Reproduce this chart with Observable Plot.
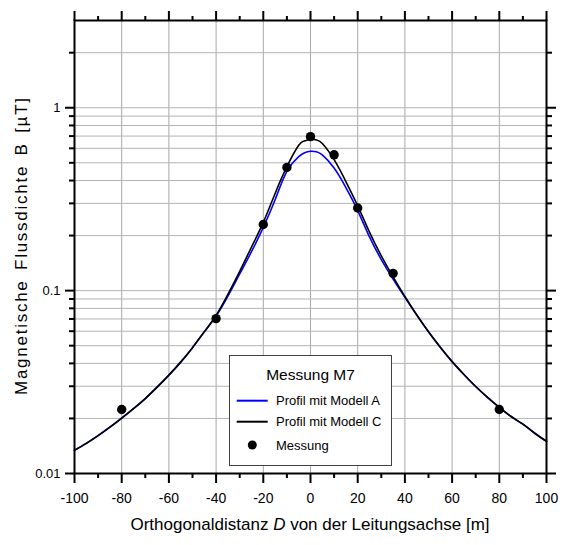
<!DOCTYPE html>
<html><head><meta charset="utf-8">
<script src="https://cdn.jsdelivr.net/npm/d3@7"></script>
<script src="https://cdn.jsdelivr.net/npm/@observablehq/plot@0.6"></script>
<style>
body{margin:0;background:#fff;}
#chart svg{display:block;}
</style>
</head><body><div id="chart"></div>
<script>
// Curve sample positions (m) and values (µT)
const curveX = [-100,-95,-90,-85,-80,-75,-70,-65,-60,-55,-50,-45,-40,-35,-30,-25,-20,-15,-10,-5,-2.5,0,2.5,5,10,15,20,25,30,35,40,45,50,55,60,65,70,75,80,85,90,95,100];
const modelA = [0.0134,0.01462,0.01611,0.01791,0.02009,0.02265,0.0257,0.02965,0.03451,0.04064,0.04875,0.0595,0.0726,0.0933,0.1233,0.1633,0.2218,0.3141,0.449,0.540,0.568,0.578,0.575,0.552,0.468,0.366,0.274,0.1968,0.1479,0.1156,0.0918,0.0735,0.0596,0.049,0.0409,0.0348,0.0299,0.0261,0.023,0.0205,0.0186,0.0166,0.015];
const modelC = [0.0134,0.01462,0.01611,0.01791,0.02009,0.02265,0.0257,0.02965,0.03451,0.04064,0.04875,0.05957,0.07328,0.0955,0.1274,0.173,0.236,0.340,0.4764,0.624,0.659,0.673,0.667,0.637,0.520,0.395,0.291,0.2089,0.1549,0.1189,0.0929,0.0738,0.0596,0.049,0.0409,0.0348,0.0299,0.0261,0.023,0.0205,0.0186,0.0166,0.015];
// Measurements
const measX = [-80,-40,-20,-10,0,10,20,35,80];
const measY = [0.0224,0.0703,0.230,0.472,0.695,0.553,0.283,0.1243,0.0224];
// Ticks
const xMajor = [-100,-80,-60,-40,-20,0,20,40,60,80,100];
const xMinor = [-90,-70,-50,-30,-10,10,30,50,70,90];
const yMajor = [0.01,0.1,1];
const yLabels = ["0.01","0.1","1"];
const yMinor = [0.02,0.03,0.04,0.05,0.06,0.07,0.08,0.09,0.2,0.3,0.4,0.5,0.6,0.7,0.8,0.9,2];
// Texts
const xTitle = ["Orthogonaldistanz ", "D", " von der Leitungsachse [m]"];
const yTitle = "Magnetische Flussdichte B [µT]";
const legendTitle = "Messung M7";
const legendItems = ["Profil mit Modell A","Profil mit Modell C","Messung"];

const lineA = curveX.map((x,i)=>({x, y: modelA[i]}));
const lineC = curveX.map((x,i)=>({x, y: modelC[i]}));
const meas = measX.map((x,i)=>({x, y: measY[i]}));

const W = 563, H = 545;
const plot = Plot.plot({
  width: W, height: H,
  marginLeft: 74, marginRight: 17, marginTop: 20, marginBottom: 72,
  style: {fontFamily: "'Liberation Sans', Arial, sans-serif", background: "#fff", color: "#000"},
  x: {domain: [-100, 100]},
  y: {type: "log", domain: [0.01, 3]},
  marks: [
    Plot.gridX(xMajor, {stroke: "#a8a8a8", strokeOpacity: 1, strokeWidth: 1}),
    Plot.gridY(yMajor.concat(yMinor), {stroke: "#b4b4b4", strokeOpacity: 1, strokeWidth: 1}),
    Plot.line(lineA, {x: "x", y: "y", stroke: "#0000ff", strokeWidth: 1.6, curve: "natural"}),
    Plot.line(lineC, {x: "x", y: "y", stroke: "#000", strokeWidth: 1.6, curve: "natural"}),
    Plot.dot(meas, {x: "x", y: "y", r: 4.7, fill: "#000", stroke: "none"}),
    Plot.frame({stroke: "#000", strokeWidth: 2}),
    Plot.axisX(xMajor, {anchor: "bottom", tickSize: 10, tickPadding: 10, strokeWidth: 2, fontSize: 14, label: null, tickFormat: d => String(d)}),
    Plot.axisX(xMinor, {anchor: "bottom", tickSize: 5, strokeWidth: 2, fill: "none", label: null}),
    Plot.axisX(xMajor, {anchor: "top", tickSize: 10, strokeWidth: 2, fill: "none", label: null}),
    Plot.axisX(xMinor, {anchor: "top", tickSize: 5, strokeWidth: 2, fill: "none", label: null}),
    Plot.axisY(yMajor, {anchor: "left", tickSize: 9, tickPadding: 5, strokeWidth: 2, fontSize: 13, label: null, tickFormat: d => yLabels[yMajor.indexOf(d)]}),
    Plot.axisY(yMinor, {anchor: "left", tickSize: 5, strokeWidth: 2, fill: "none", label: null}),
    Plot.axisY(yMajor, {anchor: "right", tickSize: 9, strokeWidth: 2, fill: "none", label: null}),
    Plot.axisY(yMinor, {anchor: "right", tickSize: 5, strokeWidth: 2, fill: "none", label: null})
  ]
});
document.getElementById("chart").appendChild(plot);

const svg = d3.select(plot);
const font = "'Liberation Sans', Arial, sans-serif";
// X title
const xt = svg.append("text").attr("x", 310).attr("y", 530).attr("text-anchor", "middle")
  .attr("font-family", font).attr("font-size", 17).attr("fill", "#000");
xt.append("tspan").text(xTitle[0]);
xt.append("tspan").attr("font-style", "italic").text(xTitle[1]);
xt.append("tspan").text(xTitle[2]);
// Y title
svg.append("text").attr("transform", "translate(27,246.5) rotate(-90)").attr("text-anchor", "middle")
  .attr("font-family", font).attr("font-size", 17).attr("fill", "#000")
  .style("word-spacing", "3px")
  .attr("textLength", 297).attr("lengthAdjust", "spacing").text(yTitle);

// Legend
const lg = svg.append("g").attr("font-family", font).attr("fill", "#000");
lg.append("rect").attr("x", 229.5).attr("y", 355.5).attr("width", 162).attr("height", 110)
  .attr("fill", "#fff").attr("stroke", "#404040").attr("stroke-width", 1);
lg.append("text").attr("x", 310.5).attr("y", 380).attr("text-anchor", "middle").attr("font-size", 15.5).text(legendTitle);
const rows = [400.7, 421.7, 445];
lg.append("line").attr("x1", 236.7).attr("x2", 267.7).attr("y1", rows[0]).attr("y2", rows[0]).attr("stroke", "#0000ff").attr("stroke-width", 2);
lg.append("line").attr("x1", 236.7).attr("x2", 267.7).attr("y1", rows[1]).attr("y2", rows[1]).attr("stroke", "#000").attr("stroke-width", 2);
lg.append("circle").attr("cx", 252.3).attr("cy", rows[2]).attr("r", 4.5).attr("fill", "#000");
legendItems.forEach((t, i) => {
  lg.append("text").attr("x", 276).attr("y", rows[i] + 4.6).attr("text-anchor", "start").attr("font-size", 13).text(t);
});
</script>
</body></html>
